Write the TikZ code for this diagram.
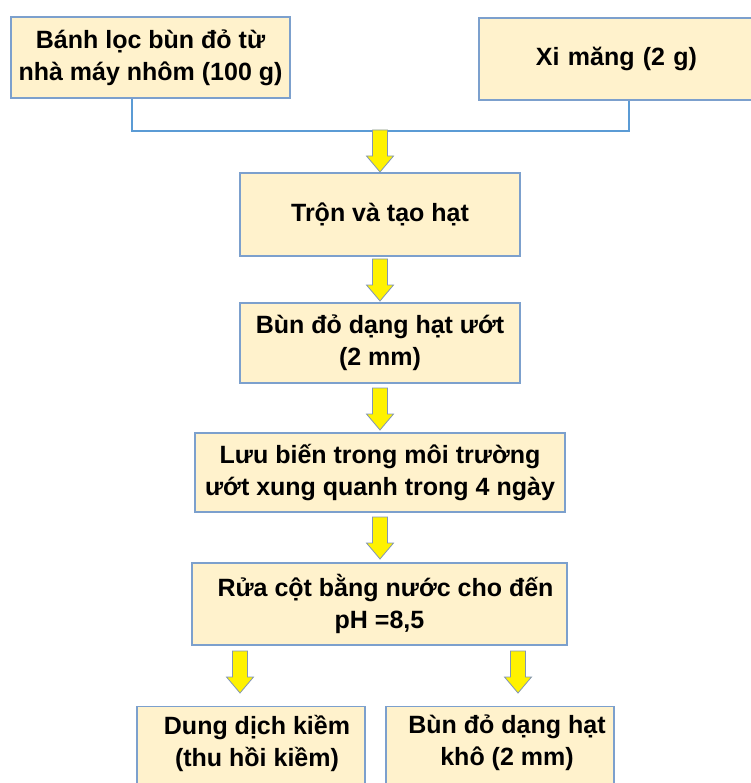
\documentclass[tikz,border=0pt]{standalone}
\usepackage{fontspec}
\setmainfont{Liberation Sans}
\definecolor{boxfill}{RGB}{255,242,204}
\definecolor{boxline}{RGB}{124,160,205}
\definecolor{conn}{RGB}{91,155,213}
\definecolor{arrline}{RGB}{130,150,180}
\newcommand{\yarrow}[2]{% #1 = top coordinate name
  \path (#1) coordinate (t) ++(0,42) coordinate (b);
  \draw[yarr] ($(t)+(-7.5,0)$) -- ($(t)+(7.5,0)$) -- ($(t)+(7.5,26)$) -- ($(t)+(13.5,26)$) -- (b) -- ($(t)+(-13.5,26)$) -- ($(t)+(-7.5,26)$) -- cycle;
}
\usetikzlibrary{calc}
\begin{document}
\begin{tikzpicture}[x=1pt,y=-1pt,
  box/.style={draw=boxline, line width=1.3pt, fill=boxfill, align=center,
    font=\fontsize{25}{32}\selectfont\bfseries, inner sep=0pt},
  txt/.style={font=\fontsize{25}{32}\selectfont\bfseries, align=center, inner sep=0pt},
  yarr/.style={draw=arrline, line width=0.8pt, fill=yellow, line join=miter},
  link/.style={draw=conn, line width=2.6pt}]
\useasboundingbox (0,0) rectangle (750,783);
\node[box, minimum width=279pt, minimum height=81pt] (b1) at (150.5,57.5) {Bánh lọc bùn đỏ từ\\nhà máy nhôm (100 g)};
\node[box, minimum width=275pt, minimum height=82pt, text width=271pt] (b2) at (616.5,59) {Xi măng (2 g)};
\node[box, minimum width=280pt, minimum height=83pt] (b3) at (380,214.5) {Trộn và tạo hạt};
\node[box, minimum width=280pt, minimum height=80pt] (b4) at (380,343) {Bùn đỏ dạng hạt ướt\\(2 mm)};
\node[box, minimum width=370pt, minimum height=79pt] (b5) at (380,472.5) {Lưu biến trong môi trường\\ướt xung quanh trong 4 ngày};
\node[box, minimum width=375pt, minimum height=82pt] (b6) at (379.5,604) {\hspace*{12pt}Rửa cột bằng nước cho đến\\pH =8,5};
\node[box, minimum width=228pt, minimum height=100pt, anchor=north] (b7) at (251,706) {};
\node[txt, anchor=north] (t7) at (257,715) {Dung dịch kiềm\\(thu hồi kiềm)};
\node[box, minimum width=228pt, minimum height=100pt, anchor=north] (b8) at (500,706) {};
\node[txt, anchor=north] (t8) at (507,715) {Bùn đỏ dạng hạt\\khô (2 mm)};
\coordinate (j) at (380,131);
\draw[link] ([xshift=-18.5pt]b1.south) |- (j) -| ([xshift=12.5pt]b2.south);
\coordinate (a1) at (380,130);
\yarrow{a1}{}
\coordinate (a2) at (380,259);
\yarrow{a2}{}
\coordinate (a3) at (380,388);
\yarrow{a3}{}
\coordinate (a4) at (380,517);
\yarrow{a4}{}
\coordinate (a5) at (240,651);
\yarrow{a5}{}
\coordinate (a6) at (518,651);
\yarrow{a6}{}
\end{tikzpicture}
\end{document}
